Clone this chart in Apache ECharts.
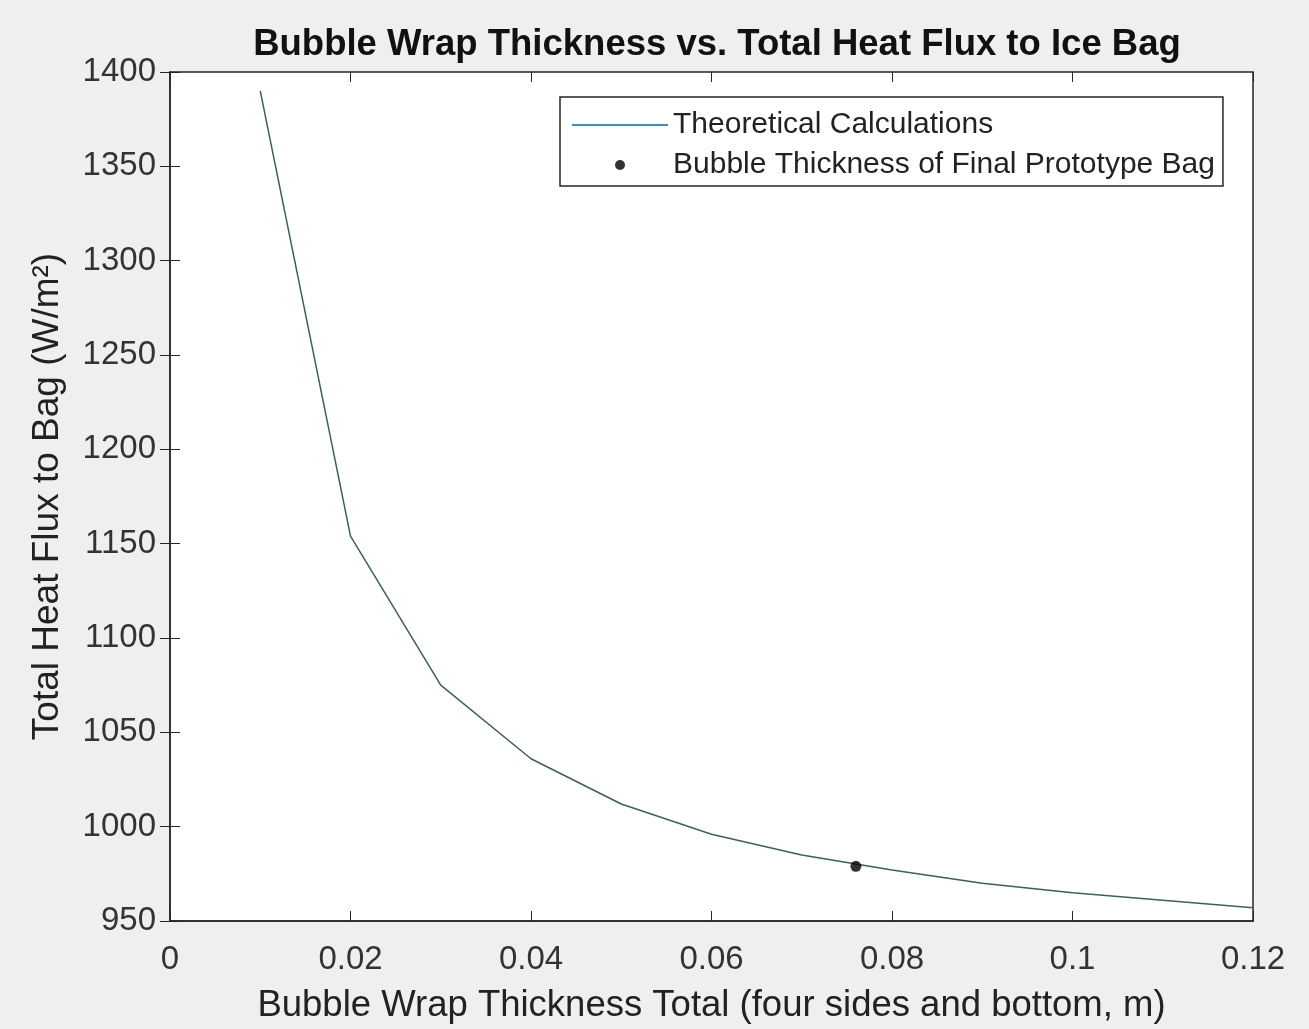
<!DOCTYPE html>
<html>
<head>
<meta charset="utf-8">
<script src="https://cdn.jsdelivr.net/npm/echarts@6/dist/echarts.min.js"></script>
<style>
  html, body { margin: 0; padding: 0; background: #efefef; }
  #chart { width: 1309px; height: 1029px; }
</style>
</head>
<body>
<div id="chart"></div>
<script>
// thickness (m) and total heat flux (W/m^2)
const thickness = [0.01, 0.02, 0.03, 0.04, 0.05, 0.06, 0.07, 0.08, 0.09, 0.10, 0.11, 0.12]
const heatFlux = [1390, 1154, 1075, 1036, 1012, 996, 985, 977, 970, 965, 961, 957]
// final prototype bag
const protoThickness = [0.076]
const protoFlux = [979]

const FONT = 'Liberation Sans, Arial, sans-serif'

const chart = echarts.init(document.getElementById('chart'))

const lineData = thickness.map((x, i) => [x, heatFlux[i]])
const dotData = protoThickness.map((x, i) => [x, protoFlux[i]])

const option = {
  backgroundColor: '#efefef',
  animation: false,
  title: {
    text: 'Bubble Wrap Thickness vs. Total Heat Flux to Ice Bag',
    left: 712,
    textAlign: 'center',
    top: 21,
    textStyle: { fontFamily: FONT, fontSize: 36.5, fontWeight: 'bold', color: '#111' }
  },
  legend: {
    left: 560,
    top: 97,
    orient: 'vertical',
    backgroundColor: '#fff',
    borderColor: '#262626',
    borderWidth: 1.5,
    borderRadius: 0,
    padding: [13, 8, 6, 12],
    itemWidth: 96,
    itemHeight: 10,
    itemGap: 10,
    textStyle: { fontFamily: FONT, fontSize: 30, color: '#222' },
    data: [
      { name: 'Theoretical Calculations', icon: 'path://M0,0H96V2H0Z', itemStyle: { color: '#3a8fc4' } },
      { name: 'Bubble Thickness of Final Prototype Bag', icon: 'circle', itemStyle: { color: '#000' } }
    ]
  },
  grid: {
    left: 170, right: 56, top: 72, bottom: 101,
    show: true, backgroundColor: '#fff', borderColor: '#262626', borderWidth: 1.5
  },
  xAxis: [{
    type: 'value',
    min: 0, max: 0.12, interval: 0.02,
    name: 'Bubble Wrap Thickness Total (four sides and bottom, m)',
    nameLocation: 'middle',
    nameGap: 66,
    nameTextStyle: { fontFamily: FONT, fontSize: 36.5, color: '#222' },
    axisLine: { show: true, lineStyle: { color: '#262626', width: 1.5 } },
    axisTick: { show: true, inside: true, length: 10, lineStyle: { color: '#262626' } },
    axisLabel: { fontFamily: FONT, fontSize: 33, color: '#333', margin: 22, formatter: v => String(+v.toFixed(2)) },
    splitLine: { show: false }
  }, {
    type: 'value', position: 'top',
    min: 0, max: 0.12, interval: 0.02,
    axisLine: { show: false },
    axisTick: { show: true, inside: true, length: 10, lineStyle: { color: '#262626' } },
    axisLabel: { show: false },
    splitLine: { show: false }
  }],
  yAxis: [{
    type: 'value',
    min: 950, max: 1400, interval: 50,
    name: 'Total Heat Flux to Bag (W/m²)',
    nameLocation: 'middle',
    nameGap: 104,
    nameTextStyle: { fontFamily: FONT, fontSize: 37, color: '#222' },
    axisLine: { show: true, lineStyle: { color: '#262626', width: 1.5 } },
    axisTick: { show: true, inside: true, length: 10, lineStyle: { color: '#262626' } },
    axisLabel: { fontFamily: FONT, fontSize: 33, color: '#333', margin: 14, formatter: v => String(v) },
    splitLine: { show: false }
  }, {
    type: 'value', position: 'right',
    min: 950, max: 1400, interval: 50,
    axisLine: { show: false },
    axisTick: { show: true, inside: true, length: 10, lineStyle: { color: '#262626' } },
    axisLabel: { show: false },
    splitLine: { show: false }
  }],
  series: [{
    name: 'Theoretical Calculations',
    type: 'line',
    data: lineData,
    symbol: 'none',
    color: '#3a8fc4',
    lineStyle: { color: '#3b5f63', width: 1.5 }
  }, {
    name: 'Bubble Thickness of Final Prototype Bag',
    type: 'scatter',
    data: dotData,
    symbol: 'circle',
    symbolSize: 11,
    itemStyle: { color: '#000' },
    z: 5
  }]
}

chart.setOption(option)
</script>
</body>
</html>
